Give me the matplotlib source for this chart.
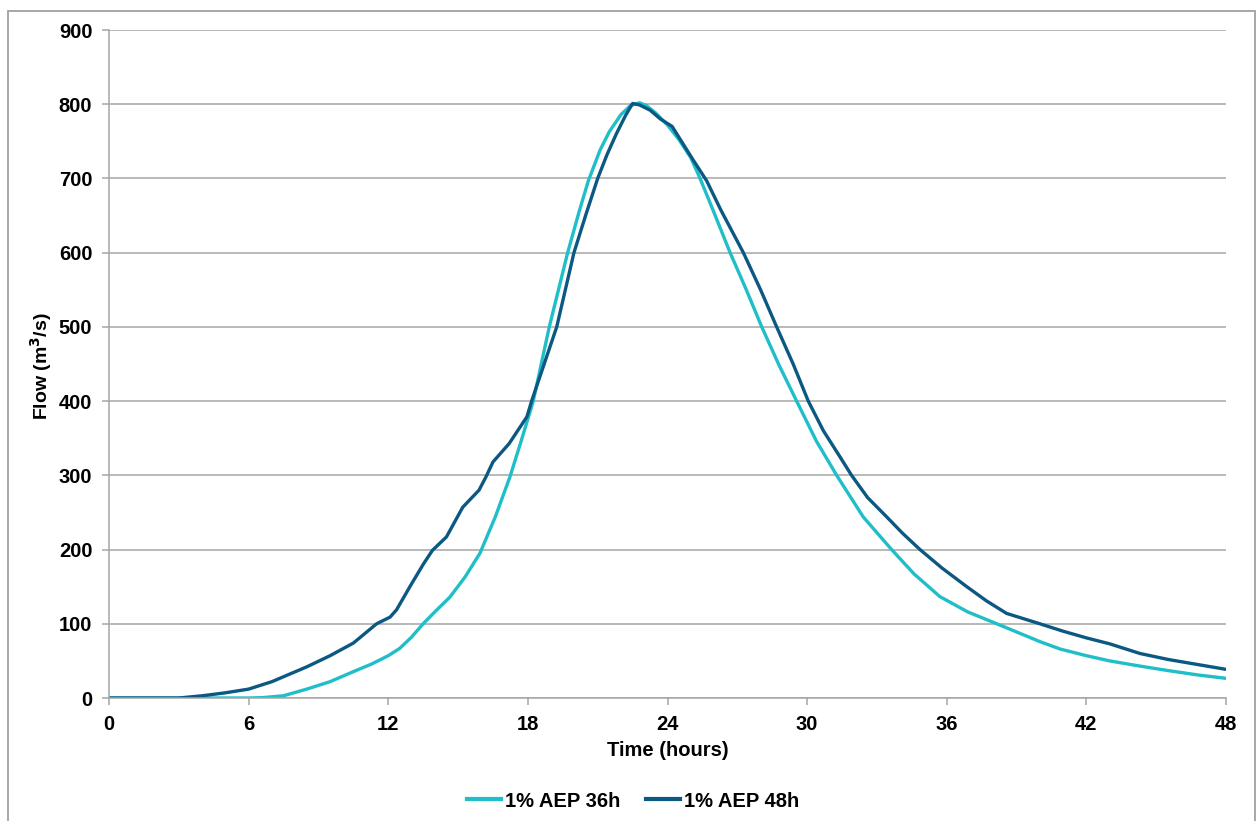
import matplotlib
matplotlib.use("Agg")
import matplotlib.pyplot as plt
from matplotlib.patches import Rectangle

plt.rcParams['font.family'] = ['Liberation Sans', 'DejaVu Sans']

# --- data ---
t_36h = [0, 3, 6, 6.6, 7.5, 8.5, 9.5, 10.5, 11.3, 12.0, 12.5, 13.0, 13.5, 14.0, 14.65, 15.3, 15.94,
         16.6, 17.23, 17.7, 18.23, 18.92, 19.71, 20.2, 20.6, 21.1, 21.5, 22.0, 22.4, 22.8,
         23.1, 23.5, 24.0, 24.5, 25.0, 25.4, 25.96, 26.69, 27.4, 28.05, 28.8, 29.55, 30.4,
         31.27, 32.41, 33.63, 34.6, 35.71, 36.9, 38.15, 39.0, 40.0, 40.87, 42.0, 43.0, 44.3,
         45.5, 46.8, 48.0]
q_36h = [0, 0, 0, 0.5, 3, 12, 22, 35.5, 46, 57, 67, 82, 100, 116, 136, 163, 195,
         244, 298, 345, 400, 500, 600, 655, 697, 738, 763, 786, 798, 802,
         798, 788, 772, 752, 728, 700, 657, 600, 549, 500, 448, 400, 346,
         300, 244, 200, 167, 136.5, 116, 100, 89, 76, 66, 57, 50, 43,
         37, 31, 26.5]

t_48h = [0, 3.0, 4.0, 5.0, 6.0, 7.0, 8.5, 9.5, 10.5, 11.5, 12.08, 12.36, 12.93, 13.5, 13.9,
         14.5, 15.2, 15.9, 16.2, 16.5, 17.2, 17.96, 18.16, 18.7, 19.24, 19.98, 20.5, 21.0,
         21.4, 21.8, 22.2, 22.5, 22.8, 23.25, 23.7, 24.2, 24.6, 25.1, 25.68, 26.3, 27.26,
         28.0, 28.69, 29.4, 30.05, 30.7, 31.41, 31.91, 32.6, 33.42, 34.1, 34.85, 35.8,
         36.86, 37.7, 38.57, 40.0, 41.0, 42.0, 43.0, 44.3, 45.5, 46.8, 48.0]
q_48h = [0, 0, 3, 7, 12, 22, 42, 57, 74, 100, 109, 119, 150, 180, 199,
         217, 257, 280, 298, 318, 343, 379, 400, 450, 500, 600, 652, 700,
         732, 760, 785, 801, 799, 792, 780, 770, 750, 725, 697, 657, 600,
         550, 500, 450, 400, 360, 325, 300, 270, 244, 222, 200, 175,
         150, 131, 114, 100, 90, 81, 73, 60, 52, 45, 38.6]

series_labels = ['1% AEP 36h', '1% AEP 48h']
series_colors = ['#1FBEC8', '#0B5882']
x_ticks = [0, 6, 12, 18, 24, 30, 36, 42, 48]
y_ticks = [0, 100, 200, 300, 400, 500, 600, 700, 800, 900]

W, H = 1258, 821
fig = plt.figure(figsize=(W / 100, H / 100), dpi=100)
ax = fig.add_axes([109 / W, 1 - 698 / H, (1226 - 109) / W, (698 - 30) / H])

grid_c = '#A6A6A6'
ax.plot(t_36h, q_36h, color=series_colors[0], lw=2.4, label=series_labels[0])
ax.plot(t_48h, q_48h, color=series_colors[1], lw=2.4, label=series_labels[1])

ax.set_xlim(0, 48)
ax.set_ylim(0, 900)
ax.set_xticks(x_ticks)
ax.set_yticks(y_ticks)
ax.yaxis.grid(True, color=grid_c, lw=1.1)
ax.set_axisbelow(True)
for s in ['top', 'right']:
    ax.spines[s].set_visible(False)
for s in ['left', 'bottom']:
    ax.spines[s].set_color(grid_c)
    ax.spines[s].set_linewidth(1.1)
ax.tick_params(axis='both', direction='out', length=5, width=1.1, color=grid_c,
               labelsize=14.5, pad=7)
for lab in ax.get_xticklabels() + ax.get_yticklabels():
    lab.set_fontweight('bold')

ax.set_xlabel('Time (hours)', fontsize=14.5, fontweight='bold', labelpad=5)
fig.text(41 / W, 1 - 366 / H, 'Flow (m$^\\mathbf{3}$/s)', rotation=90, ha='center', va='center',
         fontsize=14, fontweight='bold')

leg = fig.legend(loc='center', bbox_to_anchor=(633 / W, 1 - 801 / H), ncol=2, frameon=False,
                 prop={'size': 14.5, 'weight': 'bold'}, handlelength=1.7, handletextpad=0.2,
                 columnspacing=1.25)
for line in leg.get_lines():
    line.set_linewidth(3.0)

fig.patches.append(Rectangle((8 / W, -0.02), (1255 - 8) / W, 1 - 11 / H + 0.02,
                             transform=fig.transFigure, fill=False, edgecolor='#A0A0A0', lw=1.3))

fig.savefig('out.png', dpi=100)
